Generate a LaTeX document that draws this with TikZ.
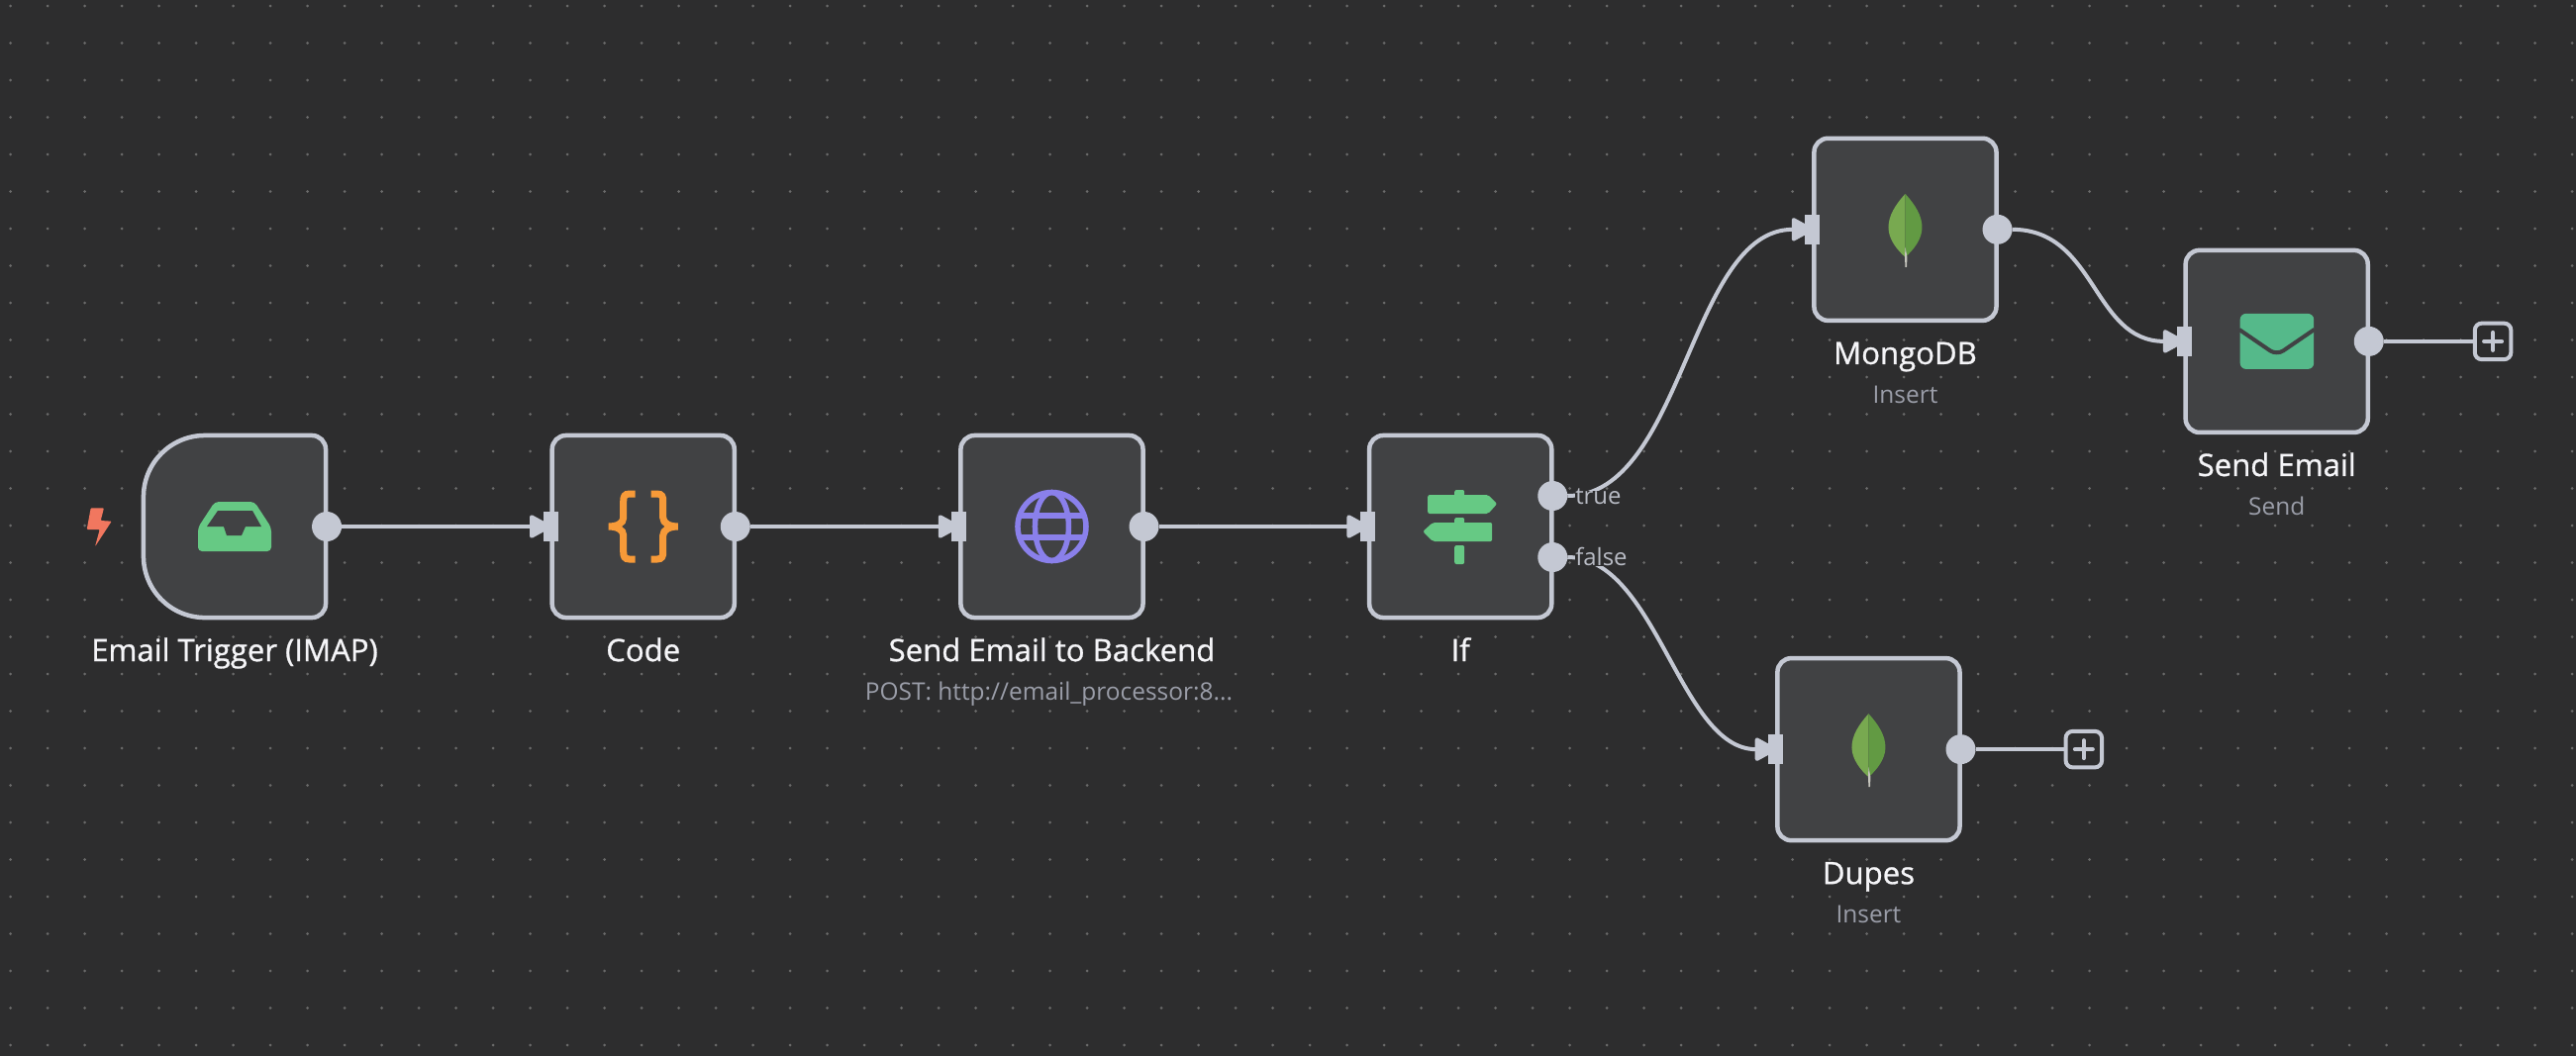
\documentclass[tikz,border=0pt]{standalone}
\usepackage{fontspec}
\setmainfont{Open Sans}
\newfontfamily\titlefont[FakeBold=0.85]{Open Sans}
\usepackage{xcolor}
\usetikzlibrary{arrows.meta,positioning,calc}
\definecolor{canvas}{HTML}{2D2D2E}
\definecolor{griddot}{HTML}{6A6A6A}
\definecolor{panel}{HTML}{414244}
\definecolor{edge}{HTML}{C4C8D3}
\definecolor{titletext}{HTML}{F5F5F8}
\definecolor{subtext}{HTML}{9A9DA8}
\definecolor{porttext}{HTML}{B8BBC4}
\definecolor{bolt}{HTML}{F1775F}
\definecolor{inbox}{HTML}{66C984}
\definecolor{brace}{HTML}{F79A38}
\definecolor{globe}{HTML}{8A80EB}
\definecolor{envelope}{HTML}{55B98A}
\definecolor{leaflight}{HTML}{78A950}
\definecolor{leafdark}{HTML}{629A43}
\definecolor{stem}{HTML}{C4C4BC}

\begin{document}
\begin{tikzpicture}[x=0.01cm,y=-0.01cm,>={Triangle[length=2.4mm,width=2.5mm,round]},node distance=2.285cm]
  \tikzstyle{box}=[rectangle,rounded corners=0.14cm,draw=edge,fill=panel,line width=0.045cm,minimum size=1.84cm,inner sep=0pt,outer sep=0pt]
  \tikzstyle{outport}=[circle,fill=edge,minimum size=0.30cm,inner sep=0pt,outer sep=0pt,xshift=0.01cm]
  \tikzstyle{inport}=[rectangle,fill=edge,minimum width=0.15cm,minimum height=0.30cm,inner sep=0pt,outer sep=0pt,xshift=-0.015cm]
  \tikzstyle{plus}=[rectangle,rounded corners=0.07cm,draw=edge,fill=canvas,line width=0.04cm,minimum size=0.365cm,inner sep=0pt,outer sep=0pt]
  \tikzstyle{wire}=[draw=edge,line width=0.04cm]
  \tikzstyle{title}=[font=\titlefont\fontsize{8.85}{10}\selectfont,text=titletext,inner sep=0pt,outer sep=0pt,text height=0.21cm,text depth=0.07cm]
  \tikzstyle{subtitle}=[font=\fontsize{6.95}{8}\selectfont,text=subtext,inner sep=0pt,outer sep=0pt,text height=0.19cm,text depth=0.06cm]
  \tikzstyle{branch}=[font=\fontsize{6.8}{8}\selectfont,text=porttext,fill=canvas,inner sep=0pt,outer sep=0pt,text height=0.13cm,text depth=0.01cm,yshift=-0.02cm]

  \useasboundingbox (0,0) rectangle (2602,1066);
  \fill[canvas] (-3,-3) rectangle (2605,1069);
  \foreach \i in {0,...,69}
    \foreach \j in {0,...,28}
      \fill[griddot] ({10.7+37.5*\i},{6+37.5*\j}) circle (0.015cm);

  % the boxes
  \node[box,draw=none,fill=none] (trig) at (237,532) {};
  \node[box,right=of trig] (code) {};
  \node[box,right=of code] (post) {};
  \node[box,right=of post] (cond) {};
  \node[box,above right=1.16cm and 2.65cm of cond] (mongo) {};
  \node[box,right=1.91cm of mongo,yshift=-1.13cm] (mail) {};
  \node[box,below right=0.41cm and 2.28cm of cond] (dupes) {};
  \filldraw[draw=edge,fill=panel,line width=0.045cm] (trig.east) [rounded corners=0.14cm] -- (trig.north east) [rounded corners=0.62cm] -- (trig.north west) -- (trig.south west) [rounded corners=0.14cm] -- (trig.south east) -- cycle;

  % ports
  \node[outport] (trigout) at (trig.east) {};
  \node[inport] (codein) at (code.west) {};
  \node[outport] (codeout) at (code.east) {};
  \node[inport] (postin) at (post.west) {};
  \node[outport] (postout) at (post.east) {};
  \node[inport] (condin) at (cond.west) {};
  \node[outport] (condtrue) at ($(cond.east)+(0,-31)$) {};
  \node[outport] (condfalse) at ($(cond.east)+(0,31)$) {};
  \node[inport] (mongoin) at (mongo.west) {};
  \node[outport] (mongoout) at (mongo.east) {};
  \node[inport] (mailin) at (mail.west) {};
  \node[outport] (mailout) at (mail.east) {};
  \node[inport] (dupesin) at (dupes.west) {};
  \node[outport] (dupesout) at (dupes.east) {};
  \node[plus,right=0.92cm of mailout] (mailplus) {};
  \node[plus,right=0.91cm of dupesout] (dupesplus) {};

  % connectors
  \draw[->,wire,shorten >=-0.08cm] (trigout)--(codein);
  \draw[->,wire,shorten >=-0.08cm] (codeout)--(postin);
  \draw[->,wire,shorten >=-0.08cm] (postout)--(condin);
  \draw[->,wire,shorten >=-0.08cm] (condtrue.east) .. controls +(117,0) and +(-117,0) .. (mongoin.west);
  \draw[->,wire,shorten >=-0.08cm] (condfalse.east) .. controls +(90,0) and +(-90,0) .. (dupesin.west);
  \draw[->,wire,shorten >=-0.08cm] (mongoout.east) .. controls +(85,0) and +(-85,0) .. (mailin.west);
  \draw[wire] (mailout)--(mailplus);
  \draw[wire] (dupesout)--(dupesplus);
  \draw[wire,line cap=round] ($(mailplus)+(-9,0)$)--($(mailplus)+(9,0)$);
  \draw[wire,line cap=round] ($(mailplus)+(0,-9)$)--($(mailplus)+(0,9)$);
  \draw[wire,line cap=round] ($(dupesplus)+(-9,0)$)--($(dupesplus)+(9,0)$);
  \draw[wire,line cap=round] ($(dupesplus)+(0,-9)$)--($(dupesplus)+(0,9)$);
  \node[branch,right=0.08cm of condtrue] (truelabel) {true};
  \node[branch,right=0.08cm of condfalse] (falselabel) {false};

  % labels
  \node[title,below=0.23cm of trig] (trigtitle) {Email Trigger (IMAP)};
  \node[title,below=0.23cm of code] (codetitle) {Code};
  \node[title,below=0.23cm of post] (posttitle) {Send Email to Backend};
  \node[subtitle,below=0.135cm of posttitle,xshift=-0.03cm] (postsub) {POST: http://email\_processor:8...};
  \node[title,below=0.23cm of cond] (condtitle) {If};
  \node[title,below=0.23cm of mongo] (mongotitle) {MongoDB};
  \node[subtitle,below=0.135cm of mongotitle] (mongosub) {Insert};
  \node[title,below=0.23cm of mail] (mailtitle) {Send Email};
  \node[subtitle,below=0.135cm of mailtitle] (mailsub) {Send};
  \node[title,below=0.23cm of dupes] (dupestitle) {Dupes};
  \node[subtitle,below=0.135cm of dupestitle] (dupessub) {Insert};

  % icons
  \fill[bolt,rounded corners=0.01cm] (91.7,513.3)--(105,513.3)--(101.7,526)--(112.7,526.7)--(96,552.3)--(100.7,535)--(87.7,535)--cycle;
  \begin{scope}[shift={(trig.center)}]
    \fill[inbox,rounded corners=0.04cm] (-20,-25)--(20,-25)--(37,1)--(37,25)--(-37,25)--(-37,1)--cycle;
    \fill[panel] (-17,-16)--(18,-16)--(27,0)--(11,0)--(7,9)--(-8,9)--(-11,0)--(-28,0)--cycle;
  \end{scope}
  \begin{scope}[shift={(code.center)}]
    \foreach \s in {1,-1}
      \draw[brace,line width=0.07cm,xscale=\s] (-8,-33)--(-14,-33) .. controls (-19,-33) and (-20,-30) .. (-20,-26)--(-20,-9) .. controls (-20,-3) and (-27,0) .. (-35,0) .. controls (-27,0) and (-20,3) .. (-20,9)--(-20,26) .. controls (-20,30) and (-19,33) .. (-14,33)--(-8,33);
  \end{scope}
  \begin{scope}[shift={(post.center)},globe,line width=0.055cm]
    \draw (0,0) circle (0.345cm);
    \draw (0,0) ellipse (0.17cm and 0.345cm);
    \draw (-32,-11)--(32,-11);
    \draw (-32,11)--(32,11);
  \end{scope}
  \begin{scope}[shift={(cond.center)},inbox,rounded corners=0.02cm]
    \fill (-6,-37) rectangle (4,-30);
    \fill (-33,-32)--(28,-32)--(37,-23)--(28,-13)--(-33,-13)--cycle;
    \fill (-6,-9) rectangle (4,-2);
    \fill (-38,5)--(-28,-4)--(32,-4)--(32,15)--(-28,15)--cycle;
    \fill (-6,19) rectangle (4,38);
  \end{scope}
  \foreach \n in {mongo,dupes}{
    \begin{scope}[shift={(\n.center)}]
      \fill[leaflight] (0,-36) .. controls (-10,-25) and (-17,-14) .. (-17,-2) .. controls (-17,10) and (-8,21) .. (0,28)--cycle;
      \fill[leafdark] (0,-36) .. controls (10,-25) and (17,-14) .. (17,-2) .. controls (17,10) and (8,21) .. (0,28)--cycle;
      \fill[stem] (0,18)--(2,28)--(1.5,38)--(0,38)--(-0.5,28)--cycle;
    \end{scope}
  }
  \begin{scope}[shift={(mail.center)}]
    \fill[envelope,rounded corners=0.06cm] (-37,-28) rectangle (37.5,28);
    \draw[panel,line width=0.04cm,rounded corners=0.08cm] (-38,-12)--(0,14)--(38,-12);
  \end{scope}
\end{tikzpicture}
\end{document}
